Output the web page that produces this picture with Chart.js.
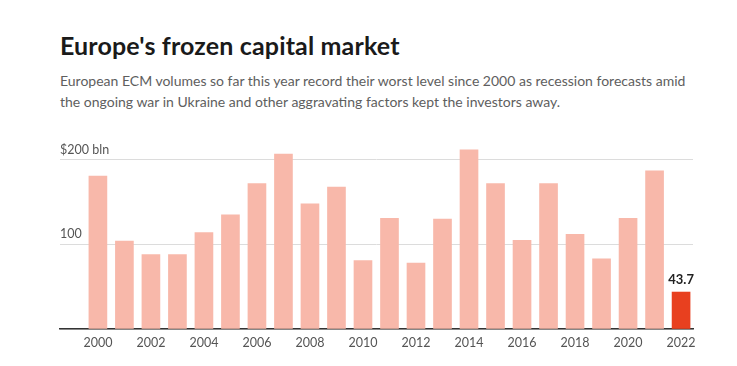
<!DOCTYPE html>
<html>
<head>
<meta charset="utf-8">
<script src="https://cdn.jsdelivr.net/npm/chart.js@4"></script>
<style>
  html, body { margin: 0; padding: 0; background: #fff; }
  body { width: 737px; height: 366px; position: relative; overflow: hidden; font-family: Lato, sans-serif; }
  #title { position: absolute; left: 60px; top: 30px; font-size: 25px; font-weight: 700; color: #1a1a1a; margin: 0; letter-spacing: 0.15px; }
  #subtitle { position: absolute; left: 60px; top: 70px; width: 660px; font-size: 14px; line-height: 21px; color: #5e5e5e; margin: 0; }
  #wrap { position: absolute; left: 0; top: 0; width: 737px; height: 366px; }
</style>
</head>
<body>
<h1 id="title">Europe's frozen capital market</h1>
<p id="subtitle">European ECM volumes so far this year record their worst level since 2000 as recession forecasts amid<br>the ongoing war in Ukraine and other aggravating factors kept the investors away.</p>
<div id="wrap"><canvas id="chart"></canvas></div>
<script>
// 資料
const years = [2000, 2001, 2002, 2003, 2004, 2005, 2006, 2007, 2008, 2009, 2010, 2011,
  2012, 2013, 2014, 2015, 2016, 2017, 2018, 2019, 2020, 2021, 2022];
const volumes = [181, 104, 88, 88, 114, 135, 172, 207, 148, 168, 81, 131,
  78, 130, 212, 172, 105, 172, 112, 83, 131, 187, 43.7];
const yTicks = [0, 100, 200];
const yTickLabels = ['', '100', '$200 bln'];
const xTickYears = [2000, 2002, 2004, 2006, 2008, 2010, 2012, 2014, 2016, 2018, 2020, 2022];

const lastIdx = volumes.length - 1;
const barColors = volumes.map((v, i) => i === lastIdx ? '#e8401f' : '#f8b8aa');

// 最後一根長條的數值標籤
const lastLabel = {
  id: 'lastLabel',
  afterDatasetsDraw(chart) {
    const bar = chart.getDatasetMeta(0).data[lastIdx];
    const ctx = chart.ctx;
    ctx.save();
    ctx.font = 'bold 13px Lato, sans-serif';
    ctx.fillStyle = '#222';
    ctx.textAlign = 'center';
    ctx.textBaseline = 'bottom';
    ctx.fillText(String(volumes[lastIdx]), bar.x, bar.y - 6);
    ctx.restore();
  }
};

new Chart(document.getElementById('chart'), {
  type: 'bar',
  data: {
    datasets: [{
      data: years.map((y, i) => ({ x: y, y: volumes[i] })),
      backgroundColor: barColors,
      barThickness: 18
    }]
  },
  options: {
    responsive: true,
    maintainAspectRatio: false,
    animation: false,
    layout: { padding: { left: 60, right: 44, top: 143, bottom: 10 } },
    plugins: { legend: { display: false }, tooltip: { enabled: false } },
    scales: {
      x: {
        type: 'linear',
        min: 1998.57,
        max: 2022.45,
        offset: false,
        grid: { display: false, drawTicks: false },
        border: { display: true, color: '#333', width: 1.5 },
        afterBuildTicks(scale) {
          scale.ticks = xTickYears.map(v => ({ value: v }));
        },
        ticks: {
          color: '#555',
          font: { family: 'Lato, sans-serif', size: 12.5 },
          padding: 6,
          maxRotation: 0,
          callback: v => String(v)
        }
      },
      y: {
        min: 0,
        max: 220,
        afterBuildTicks(scale) {
          scale.ticks = yTicks.map(v => ({ value: v }));
        },
        grid: { color: '#dcdcdc', lineWidth: 1, drawTicks: false },
        border: { display: false },
        ticks: {
          mirror: true,
          padding: 0,
          labelOffset: -10,
          color: '#555',
          font: { family: 'Lato, sans-serif', size: 12.5 },
          callback: v => yTickLabels[yTicks.indexOf(v)]
        }
      }
    }
  },
  plugins: [lastLabel]
});
</script>
</body>
</html>
